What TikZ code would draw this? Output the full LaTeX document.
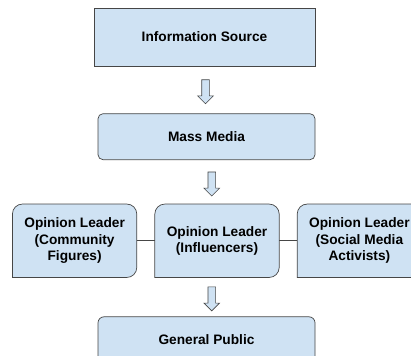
\documentclass[tikz,border=0pt]{standalone}
\usepackage{fontspec}
\setmainfont{Liberation Sans}
\usetikzlibrary{shapes.arrows, positioning, calc, backgrounds}
\definecolor{boxblue}{RGB}{207, 226, 243}
\definecolor{edgegray}{RGB}{70, 70, 70}
\tikzset{
    stage/.style={rectangle, draw=edgegray, fill=boxblue, line width=0.7pt,
                  font=\bfseries\fontsize{13.7}{16.5}\selectfont,
                  align=center, inner sep=0pt},
    leader/.style={rectangle, minimum width=124pt, minimum height=73pt,
                   font=\bfseries\fontsize{13.7}{16.5}\selectfont,
                   align=center, inner sep=0pt},
    flow/.style={single arrow, draw=edgegray, fill=boxblue, rotate=-90,
                 minimum height=24pt, single arrow head extend=4pt,
                 inner xsep=0pt, inner ysep=3.5pt, line width=0.6pt},
    link/.style={draw=edgegray, line width=0.7pt},
}

\begin{document}
\begin{tikzpicture}[x=1pt, y=-1pt]
    \clip (0,0) rectangle (411,355);

    % Source and media
    \node[stage, minimum width=221pt, minimum height=58pt] (source)
        at (204.5,37) {Information Source};
    \node[stage, rounded corners=5pt, minimum width=217pt, minimum height=46pt,
          below=47pt of source, xshift=2pt] (media) {Mass Media};

    % Opinion leaders
    \node[leader, below=44pt of media, xshift=10.5pt] (influencers)
        {Opinion Leader\\(Influencers)};
    \node[leader, left=18pt of influencers] (community)
        {Opinion Leader\\(Community\\Figures)};
    \node[leader, right=18pt of influencers] (activists)
        {Opinion Leader\\(Social Media\\Activists)};

    % Audience
    \node[stage, rounded corners=6pt, minimum width=217pt, minimum height=46pt,
          below=39pt of influencers, xshift=-10.5pt] (public) {General Public};

    % Leader boxes: round top, square bottom
    \begin{scope}[on background layer]
        \foreach \n in {community, influencers, activists}
            \filldraw[link, fill=boxblue] (\n.south west) [rounded corners=10pt]
                |- (\n.north) -| (\n.south east) [sharp corners] -- cycle;
    \end{scope}

    % Links between leaders
    \draw[link] (community) -- (influencers);
    \draw[link] (influencers) -- (activists);

    % Flow arrows
    \node[flow] (toMedia) at ($(source.south)!0.5!(media.north)$) {};
    \node[flow] (toLeaders) at ($(media.south)!0.5!(influencers.north)$) {};
    \node[flow] (toPublic) at ($(influencers.south)!0.5!(public.north)$) {};
\end{tikzpicture}
\end{document}
